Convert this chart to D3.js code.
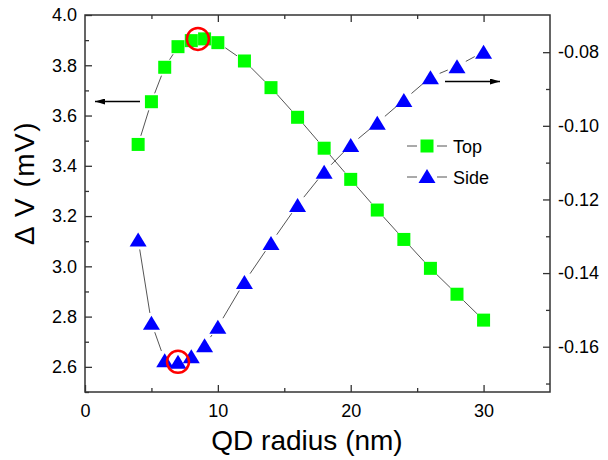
<!DOCTYPE html>
<html>
<head>
<meta charset="utf-8">
<script src="https://cdn.jsdelivr.net/npm/d3@7/dist/d3.min.js"></script>
<style>
  body { margin: 0; background: #fff; }
  svg { display: block; font-family: "Liberation Sans", Arial, sans-serif; }
</style>
</head>
<body>
<svg id="chart" width="608" height="460"></svg>
<script>
// ---- Data ----
const radiusTop = [4, 5, 6, 7, 8, 9, 10, 12, 14, 16, 18, 20, 22, 24, 26, 28, 30];
const topValues = [3.485, 3.655, 3.792, 3.874, 3.898, 3.905, 3.890, 3.817, 3.711, 3.593, 3.470, 3.346, 3.224, 3.107, 2.992, 2.889, 2.786];
const radiusSide = [4, 5, 6, 7, 8, 9, 10, 12, 14, 16, 18, 20, 22, 24, 26, 28, 30];
const sideValues = [-0.1309, -0.1535, -0.1637, -0.1641, -0.1626, -0.1596, -0.1546, -0.1424, -0.1318, -0.1215, -0.1125, -0.1052, -0.0992, -0.0930, -0.0868, -0.0838, -0.0799];
const xTicks = [0, 10, 20, 30];
const yLeftTicks = [2.6, 2.8, 3.0, 3.2, 3.4, 3.6, 3.8, 4.0];
const yRightTicks = [-0.16, -0.14, -0.12, -0.10, -0.08];
const seriesNames = ["Top", "Side"];
const highlightTop = [8.5, 3.905];
const highlightSide = [7, -0.1641];

// ---- Layout ----
const L = 85, R = 550, T = 15, B = 392;
const svg = d3.select("#chart");
const x = d3.scaleLinear().domain([0, 35]).range([L, R]);
const yL = d3.scaleLinear().domain([2.5, 4.0]).range([B, T]);
const yR = d3.scaleLinear().domain([-0.1723, -0.0699]).range([B, T]);

const axisColor = "#333";
const fs = 18;

function styleAxis(g) {
  g.select(".domain").remove();
  g.selectAll(".tick line").attr("stroke", axisColor).attr("stroke-width", 1.3);
  g.selectAll("text").attr("fill", "#000").style("font-size", fs + "px")
    .style("font-family", '"Liberation Sans", Arial, sans-serif');
}

// minor ticks
const xMinor = [5, 15, 25];
const yLMinor = [2.5, 2.7, 2.9, 3.1, 3.3, 3.5, 3.7, 3.9];
const yRMinor = [-0.17, -0.15, -0.13, -0.11, -0.09];

// bottom
svg.append("g").attr("transform", `translate(0,${B})`)
  .call(d3.axisBottom(x).tickValues(xTicks).tickFormat(d => String(d)).tickSize(-7).tickPadding(12))
  .call(styleAxis);
svg.append("g").attr("transform", `translate(0,${B})`)
  .call(d3.axisBottom(x).tickValues(xMinor).tickFormat("").tickSize(-4))
  .call(styleAxis);
// top
svg.append("g").attr("transform", `translate(0,${T})`)
  .call(d3.axisTop(x).tickValues(xTicks.slice(1)).tickFormat("").tickSize(-7))
  .call(styleAxis);
svg.append("g").attr("transform", `translate(0,${T})`)
  .call(d3.axisTop(x).tickValues(xMinor).tickFormat("").tickSize(-4))
  .call(styleAxis);
// left
svg.append("g").attr("transform", `translate(${L},0)`)
  .call(d3.axisLeft(yL).tickValues(yLeftTicks).tickFormat(d => d.toFixed(1)).tickSize(-7).tickPadding(8))
  .call(styleAxis);
svg.append("g").attr("transform", `translate(${L},0)`)
  .call(d3.axisLeft(yL).tickValues(yLMinor).tickFormat("").tickSize(-4))
  .call(styleAxis);
// right
svg.append("g").attr("transform", `translate(${R},0)`)
  .call(d3.axisRight(yR).tickValues(yRightTicks).tickFormat(d => d.toFixed(2)).tickSize(-7).tickPadding(8))
  .call(styleAxis);
svg.append("g").attr("transform", `translate(${R},0)`)
  .call(d3.axisRight(yR).tickValues(yRMinor).tickFormat("").tickSize(-4))
  .call(styleAxis);

// frame
svg.append("rect").attr("x", L).attr("y", T).attr("width", R - L).attr("height", B - T)
  .attr("fill", "none").attr("stroke", axisColor).attr("stroke-width", 1.5);

// connecting lines with gaps
function gapLines(pts, gap, cls) {
  const segs = [];
  for (let i = 0; i < pts.length - 1; i++) {
    const [x1, y1] = pts[i], [x2, y2] = pts[i + 1];
    const dx = x2 - x1, dy = y2 - y1, len = Math.hypot(dx, dy);
    if (len <= 2 * gap) continue;
    const ux = dx / len, uy = dy / len;
    segs.push([x1 + ux * gap, y1 + uy * gap, x2 - ux * gap, y2 - uy * gap]);
  }
  svg.append("g").attr("class", cls).selectAll("line").data(segs).join("line")
    .attr("x1", d => d[0]).attr("y1", d => d[1]).attr("x2", d => d[2]).attr("y2", d => d[3])
    .attr("stroke", "#555").attr("stroke-width", 1);
}
const topPts = radiusTop.map((r, i) => [x(r), yL(topValues[i])]);
const sidePts = radiusSide.map((r, i) => [x(r), yR(sideValues[i])]);
gapLines(topPts, 9, "lt");
gapLines(sidePts, 10, "ls");

const sq = 13;
const triW = 17, triH = 14;
const triPath = `M0,${-triH / 2}L${triW / 2},${triH / 2}L${-triW / 2},${triH / 2}Z`;

svg.append("g").selectAll("rect").data(topPts).join("rect")
  .attr("x", d => d[0] - sq / 2).attr("y", d => d[1] - sq / 2)
  .attr("width", sq).attr("height", sq).attr("fill", "#00ff00");
svg.append("g").selectAll("path").data(sidePts).join("path")
  .attr("d", triPath).attr("transform", d => `translate(${d[0]},${d[1]})`)
  .attr("fill", "#0000ff");

// highlight circles
svg.append("circle").attr("cx", x(highlightTop[0])).attr("cy", yL(highlightTop[1])).attr("r", 11)
  .attr("fill", "none").attr("stroke", "#ff0000").attr("stroke-width", 2.5);
svg.append("circle").attr("cx", x(highlightSide[0])).attr("cy", yR(highlightSide[1])).attr("r", 11)
  .attr("fill", "none").attr("stroke", "#ff0000").attr("stroke-width", 2.5);

// arrows
const defs = svg.append("defs");
defs.append("marker").attr("id", "ah").attr("viewBox", "0 0 10 6").attr("refX", 10).attr("refY", 3)
  .attr("markerWidth", 10).attr("markerHeight", 6).attr("markerUnits", "userSpaceOnUse").attr("orient", "auto")
  .append("path").attr("d", "M0,0L10,3L0,6Z").attr("fill", "#000");
svg.append("line").attr("x1", 140).attr("y1", 101.5).attr("x2", 95).attr("y2", 101.5)
  .attr("stroke", "#000").attr("stroke-width", 1.3).attr("marker-end", "url(#ah)");
svg.append("line").attr("x1", 445).attr("y1", 81.5).attr("x2", 500).attr("y2", 81.5)
  .attr("stroke", "#000").attr("stroke-width", 1.3).attr("marker-end", "url(#ah)");

// legend
const lg = svg.append("g");
[0, 1].forEach(i => {
  const cy = 146 + i * 31;
  lg.append("line").attr("x1", 407).attr("x2", 417).attr("y1", cy).attr("y2", cy).attr("stroke", "#555");
  lg.append("line").attr("x1", 437).attr("x2", 447).attr("y1", cy).attr("y2", cy).attr("stroke", "#555");
  if (i === 0) {
    lg.append("rect").attr("x", 427 - sq / 2).attr("y", cy - sq / 2).attr("width", sq).attr("height", sq).attr("fill", "#00ff00");
  } else {
    lg.append("path").attr("d", triPath).attr("transform", `translate(427,${cy - 1})`).attr("fill", "#0000ff");
  }
  lg.append("text").attr("x", 453).attr("y", cy + 6.5).attr("font-size", fs).text(seriesNames[i]);
});

// axis titles
svg.append("text").attr("x", 307).attr("y", 450).attr("text-anchor", "middle")
  .attr("font-size", 28).text("QD radius (nm)");
svg.append("text").attr("transform", `translate(34,183) rotate(-90)`).attr("text-anchor", "middle")
  .attr("font-size", 28).attr("letter-spacing", 1.5).text("Δ V (mV)");
</script>
</body>
</html>
